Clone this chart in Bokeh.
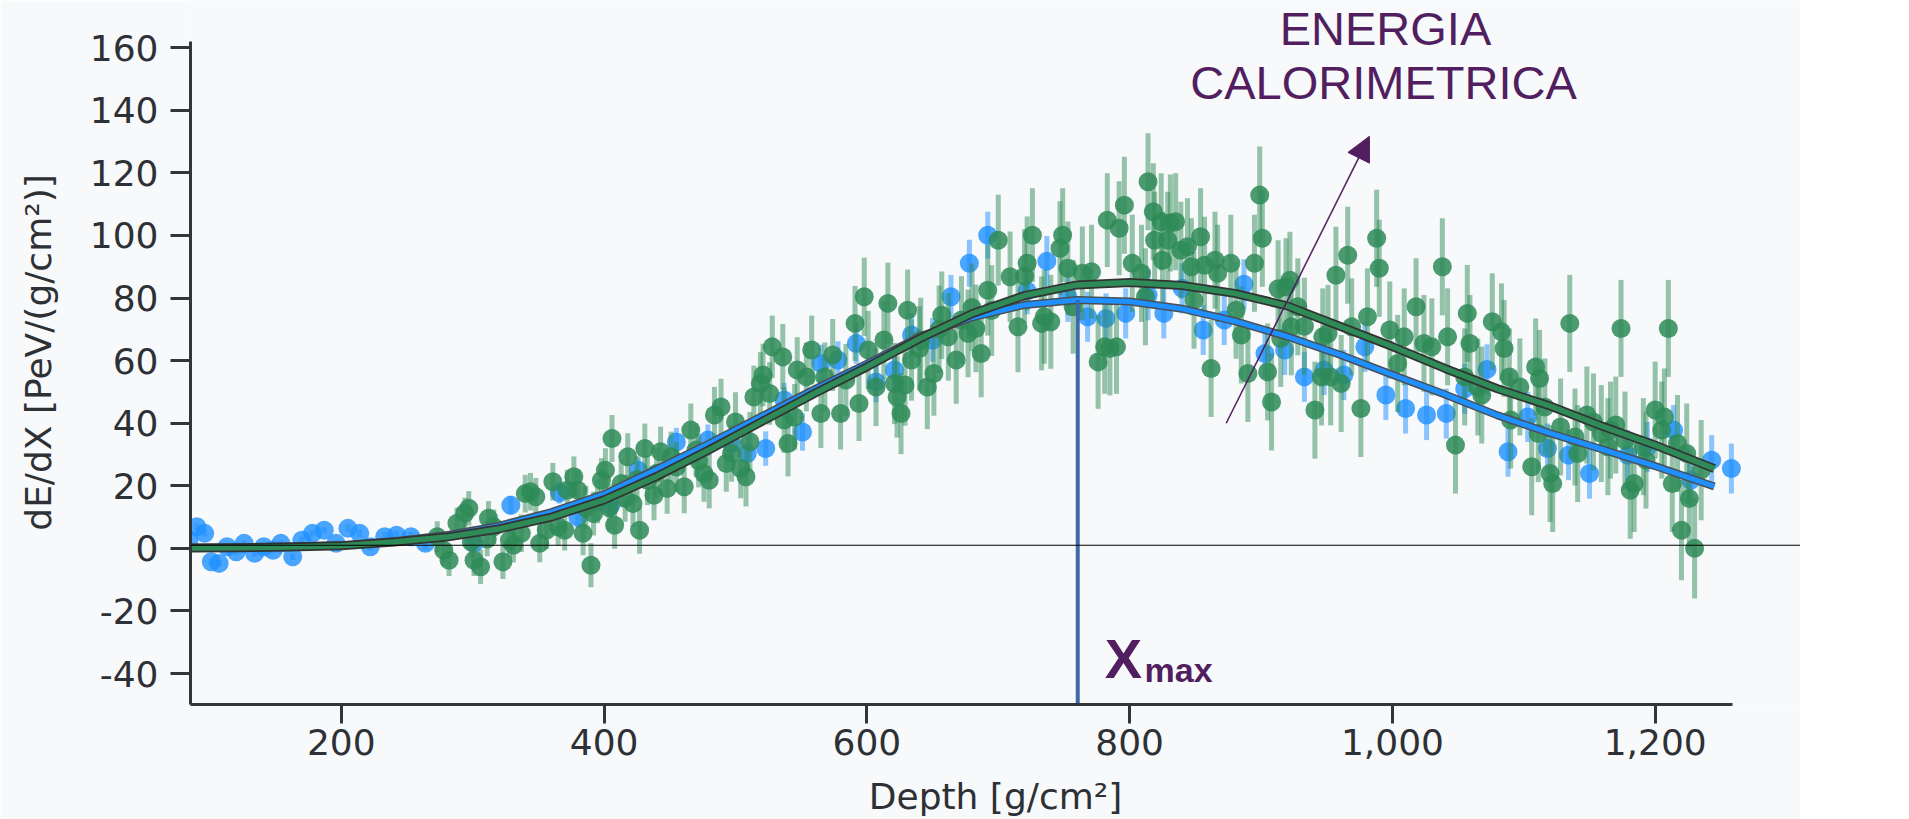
from bokeh.plotting import figure
from bokeh.models import Span, Label, Arrow, NormalHead, NumeralTickFormatter, PrintfTickFormatter
from bokeh.embed import file_html
from bokeh.resources import INLINE

# ---------------- data ----------------
blue_x = [84, 90, 96, 101, 107, 113, 120, 126, 134, 141, 148, 154, 163, 170, 178, 187, 196, 205, 214, 222,
          233, 242, 253, 264, 301, 329, 366, 380, 405, 426, 455, 479, 497, 509, 523, 537, 551, 565, 578, 592,
          607, 621, 634, 650, 664, 678, 692, 722, 737, 753, 768, 782, 797, 814, 826, 840, 856, 872, 887, 903,
          918, 933, 948, 963, 979, 995, 1010, 1026, 1041, 1055, 1072, 1088, 1103, 1118, 1134, 1150, 1179, 1194,
          1214, 1227, 1243, 1258]
blue_y = [2.6, 6.9, 4.8, -4.3, -4.8, 0.5, -1.1, 1.6, -1.6, 0.5, -0.6, 1.6, -2.7, 2.6, 4.8, 5.8, 1.6, 6.4, 4.8, 0.5,
          3.7, 4.2, 3.7, 1.6, 1.6, 13.8, 17.8, 10.0, 13.8, 25.0, 34.0, 34.6, 33.5, 30.3, 31.9, 47.4, 37.2, 59.1, 60.2, 65.5,
          53.2, 57.0, 68.2, 66.6, 80.4, 91.1, 100.1, 82.3, 91.8, 80.4, 74.0, 73.5, 75.1, 80.9, 75.1, 83.1, 69.8, 73.0, 84.4, 62.3,
          63.4, 54.8, 57.0, 55.4, 64.4, 49.0, 44.7, 42.6, 43.1, 51.0, 57.2, 30.9, 42.0, 31.9, 29.8, 23.9, 29.8, 32.4,
          37.8, 21.8, 28.2, 25.5]
blue_err = [1, 1, 1, 1, 1, 1, 1, 1, 1, 1, 1, 1, 1, 1, 1, 1, 1, 1.2, 1.2, 1.2,
            1.5, 1.5, 1.5, 2, 2.5, 3, 3.5, 3.5, 4, 4, 4.5, 5, 5, 5.5, 5.5, 5.5, 6, 6, 6, 6.5,
            6.5, 6.5, 7, 7, 7, 7.5, 7.5, 7.5, 8, 8, 8, 8, 8, 8, 8, 8, 8, 8, 8, 8,
            8, 8, 8, 8, 8, 8, 8, 8, 8, 8, 8, 8, 8, 8, 8, 8, 8, 8,
            8, 8, 8, 8]

green_x = [273, 278, 282, 288, 294, 297, 299, 301, 306, 311, 312, 316, 323, 328, 331, 337, 340, 344, 348, 351,
           356, 361, 365, 370, 372, 377, 380, 384, 386, 390, 392, 395, 398, 401, 404, 406, 408, 413, 416, 418,
           422, 425, 427, 431, 433, 438, 440, 443, 448, 451, 455, 461, 466, 470, 472, 476, 480, 484, 489, 493,
           497, 500, 504, 508, 511, 514, 519, 521, 526, 528, 536, 537, 540, 545, 547, 554, 558, 565, 568, 574,
           580, 584, 591, 594, 598, 601, 607, 613, 616, 621, 623, 626, 629, 631, 634, 640, 641, 646, 651, 655,
           657, 662, 668, 672, 677, 680, 683, 687, 692, 695, 700, 709, 715, 720, 722, 726, 733, 735, 740, 747,
           749, 753, 757, 764, 771, 776, 781, 783, 785, 790, 792, 796, 802, 809, 812, 814, 818, 819, 824, 825,
           829, 831, 835, 839, 844, 847, 849, 854, 857, 862, 865, 867, 877, 881, 885, 890, 895, 899, 901, 905,
           908, 913, 915, 919, 922, 923, 928, 933, 941, 946, 947, 951, 953, 957, 961, 966, 969, 976, 981, 988,
           990, 998, 1004, 1009, 1018, 1024, 1030, 1038, 1042, 1048, 1055, 1057, 1059, 1065, 1068, 1076, 1083, 1085, 1089, 1090,
           1097, 1106, 1109, 1111, 1112, 1116, 1120, 1122, 1128, 1135, 1139, 1141, 1148, 1153, 1159, 1164, 1166, 1170, 1174, 1177,
           1181, 1184, 1191, 1193, 1200, 1205, 1207, 1210, 1213, 1217, 1220, 1224, 1226, 1230, 1235]
green_y = [3.7, -0.6, -3.8, 8.0, 11.2, 12.8, 2.0, -3.8, -5.9, 3.0, 9.6, 6.9, -4.3, 2.6, 1.0, 4.8, 17.5, 18.1, 16.5, 1.6,
           5.8, 21.3, 6.9, 5.8, 18.6, 22.9, 18.6, 4.8, 13.0, -5.4, 11.1, 15.0, 21.8, 25.0, 13.0, 35.1, 7.4, 20.7, 16.0, 29.3,
           14.3, 22.0, 5.8, 31.9, 21.8, 17.0, 24.0, 30.9, 19.1, 29.3, 26.0, 19.7, 37.8, 31.4, 28.0, 23.9, 21.8, 42.6, 45.2, 27.1,
           30.3, 40.4, 25.5, 22.9, 34.1, 48.4, 52.7, 55.4, 49.5, 64.4, 61.2, 41.0, 33.5, 42.0, 57.0, 54.8, 63.4, 43.1, 54.8, 61.8,
           43.1, 53.8, 71.9, 46.3, 80.4, 63.4, 51.6, 66.6, 78.3, 52.7, 48.4, 43.1, 52.2, 76.1, 60.2, 63.9, 66.6, 51.6, 55.9, 70.0,
           74.5, 67.6, 60.2, 73.0, 68.7, 77.0, 70.3, 62.3, 82.5, 76.0, 98.5, 86.8, 70.8, 87.0, 91.1, 100.1, 71.9, 74.0, 72.4, 95.9,
           100.1, 89.5, 77.2, 87.9, 88.4, 59.6, 64.4, 104.9, 63.9, 64.4, 102.3, 109.7, 91.1, 87.9, 80.4, 117.2, 107.6, 98.5, 104.4, 92.1,
           98.5, 104.0, 104.4, 95.3, 96.4, 90.0, 79.3, 99.6, 90.5, 57.5, 92.1, 87.9, 91.1, 76.1, 68.2, 55.9, 91.1, 112.9, 99.1, 56.4,
           46.8, 83.0, 67.1, 83.6, 85.7, 70.8, 77.2, 71.0, 44.2, 54.8, 67.6, 68.7, 54.8, 87.3, 52.7, 93.7, 70.8, 44.7, 74.0, 99.1,
           89.5, 69.8, 59.1, 67.6, 77.2, 65.5, 64.4, 90.0, 67.6, 33.0, 54.8, 75.1, 65.5, 51.6, 49.0, 72.4, 69.2, 63.9, 54.8, 41.0,
           51.6, 26.1, 58.0, 36.7, 54.3, 45.2, 23.9, 20.7, 38.8, 71.9, 35.6, 30.3, 42.6, 40.4, 36.7, 32.5, 37.8, 39.4, 70.3, 34.6,
           18.6, 20.7, 32.5, 28.2, 44.2, 37.8, 42.0, 70.3, 20.7, 33.5, 5.8, 30.3, 15.9, 0.0, 25.0]
green_err = [5, 5, 5, 5, 5, 5.5, 5, 5, 5.5, 5.5, 5.5, 5.5, 5.5, 5.5, 5.5, 6, 6, 6, 6, 6,
             6, 6, 6, 6.5, 6.5, 6.5, 6.5, 7, 7, 7, 7, 7, 7, 7, 7.5, 7.5, 7.5, 7.5, 7.5, 7.5,
             7.5, 7.5, 7.5, 8, 8, 8, 8, 8, 8, 8, 8, 8.5, 8.5, 8.5, 8.5, 9, 9, 9, 9, 9,
             9, 9.5, 9.5, 9.5, 9.5, 10, 10, 10, 10, 10, 10.5, 10.5, 10.5, 10.5, 10.5, 11, 11, 11, 11, 11.5,
             11.5, 11.5, 12, 12, 12.5, 12.5, 12.5, 12.5, 13, 13, 13, 13, 13, 13, 13, 13.5, 13.5, 13.5, 13.5, 14,
             14, 14, 14, 14, 14, 14, 14, 14, 14.5, 14.5, 14.5, 14.5, 14.5, 15, 15, 15, 15, 15, 15, 15,
             15, 15, 15, 15, 15, 15, 15, 15, 15, 15, 15, 15.5, 15.5, 15.5, 15.5, 15.5, 15.5, 15.5, 15.5, 15.5,
             15.5, 15.5, 15.5, 15.5, 15.5, 15.5, 15.5, 15.5, 15.5, 15.5, 15.5, 15.5, 15.5, 15.5, 15.5, 15.5, 15.5, 15.5, 15.5, 15.5,
             15.5, 15.5, 15.5, 15.5, 15.5, 15.5, 15.5, 15.5, 15.5, 15.5, 15.5, 15.5, 15.5, 15.5, 15.5, 15.5, 15.5, 15.5, 15.5, 15.5,
             15.5, 15.5, 15.5, 15.5, 15.5, 15.5, 15.5, 15.5, 15.5, 15.5, 15.5, 15.5, 15.5, 15.5, 15.5, 15.5, 15.5, 15.5, 15.5, 15.5,
             15.5, 15.5, 15.5, 15.5, 15.5, 15.5, 15.5, 15.5, 15.5, 15.5, 15.5, 15.5, 15.5, 15.5, 15.5, 15.5, 15.5, 15.5, 15.5, 15.5,
             15.5, 15.5, 15.5, 15.5, 15.5, 15.5, 15.5, 15.5, 15.5, 15.5, 16, 16, 16, 16, 16]

blue_fit_x = [85, 120, 160, 200, 240, 280, 320, 360, 400, 440, 480, 520, 560, 600, 640, 680, 720, 760, 800, 840,
              880, 920, 960, 1000, 1040, 1080, 1120, 1160, 1200, 1245]
blue_fit_y = [0.2, 0.3, 0.6, 1.0, 2.3, 4.2, 7.2, 11.6, 17.3, 25.3, 33.5, 42.2, 50.8, 59.0, 67.6, 73.8, 77.8, 79.4, 78.9, 76.6,
              72.6, 67.7, 61.9, 55.5, 49.2, 42.5, 36.8, 31.6, 26.3, 19.8]
green_fit_x = [85, 120, 160, 200, 240, 280, 320, 360, 400, 440, 480, 520, 560, 600, 640, 680, 720, 760, 800, 840,
               880, 920, 960, 1000, 1040, 1080, 1120, 1160, 1200, 1245]
green_fit_y = [0.1, 0.2, 0.4, 0.8, 2.0, 3.6, 6.2, 10.0, 15.5, 23.0, 31.5, 40.5, 49.5, 58.0, 67.0, 75.0, 80.8, 84.2, 85.0, 84.0,
               81.5, 77.5, 71.0, 64.5, 57.5, 51.0, 45.5, 39.0, 33.0, 25.5]

x_ticks = [200, 400, 600, 800, 1000, 1200]
y_ticks = [-40, -20, 0, 20, 40, 60, 80, 100, 120, 140, 160]
xmax_depth = 760.5
xmax_top = 79.4
zero_line = 1.0

# ---------------- styling ----------------
BG = "#f8f9fb"
AXIS = "#323539"
TXT = "#2d3034"
PURPLE = "#511f5f"
GREEN = "#2e8b57"
BLUE = "#1e90ff"

X_START, X_END = 85.2, 1310.6
X_AXIS_END = 1258.6
Y_START, Y_AXIS_END, Y_END = -49.9, 162.0, 175.1

p = figure(width=1800, height=819, x_range=(X_START, X_END), y_range=(Y_START, Y_END),
           output_backend="svg", toolbar_location=None,
           min_border_left=190, min_border_right=0, min_border_top=0, min_border_bottom=115,
           background_fill_color=BG, border_fill_color=BG, outline_line_color=None)
p.grid.visible = False

for ax in (p.xaxis[0], p.yaxis[0]):
    ax.axis_line_width = 3
    ax.axis_line_color = AXIS
    ax.major_tick_line_width = 3
    ax.major_tick_line_color = AXIS
    ax.major_tick_in = 0
    ax.minor_tick_line_color = None
    ax.major_label_text_font = "DejaVu Sans"
    ax.major_label_text_font_size = "36px"
    ax.major_label_text_color = TXT
    ax.axis_label_text_font = "DejaVu Sans"
    ax.axis_label_text_font_size = "36px"
    ax.axis_label_text_font_style = "normal"
    ax.axis_label_text_color = TXT

p.xaxis.ticker = x_ticks
p.xaxis.formatter = NumeralTickFormatter(format="0,0")
p.xaxis.bounds = (X_START, X_AXIS_END)
p.xaxis.major_tick_out = 19
p.xaxis.major_label_standoff = 5
p.xaxis.axis_label_standoff = 18
p.xaxis.axis_label = "Depth [g/cm²]"

p.yaxis.ticker = y_ticks
p.yaxis.formatter = PrintfTickFormatter(format="%d")
p.yaxis.bounds = (Y_START, Y_AXIS_END)
p.yaxis.major_tick_out = 20
p.yaxis.major_label_standoff = 12
p.yaxis.axis_label_standoff = 28
p.yaxis.axis_label = "dE/dX [PeV/(g/cm²)]"

# ---------------- data glyphs ----------------
b_lo = [y - e for y, e in zip(blue_y, blue_err)]
b_hi = [y + e for y, e in zip(blue_y, blue_err)]
g_lo = [y - e for y, e in zip(green_y, green_err)]
g_hi = [y + e for y, e in zip(green_y, green_err)]

p.segment(x0=blue_x, y0=b_lo, x1=blue_x, y1=b_hi, line_color=BLUE, line_alpha=0.5, line_width=5)
p.scatter(blue_x, blue_y, size=19, marker="circle", fill_color=BLUE, fill_alpha=0.8, line_color=None)
p.segment(x0=green_x, y0=g_lo, x1=green_x, y1=g_hi, line_color=GREEN, line_alpha=0.5, line_width=5)
p.scatter(green_x, green_y, size=19, marker="circle", fill_color=GREEN, fill_alpha=0.85, line_color=None)

p.line(blue_fit_x, blue_fit_y, line_color="#4a4f55", line_width=8, line_join="round")
p.line(blue_fit_x, blue_fit_y, line_color=BLUE, line_width=5, line_join="round")
p.line(green_fit_x, green_fit_y, line_color="#333333", line_width=9, line_join="round")
p.line(green_fit_x, green_fit_y, line_color=GREEN, line_width=5.5, line_join="round")

p.add_layout(Span(location=zero_line, dimension="width", line_color="black", line_width=1.2, level="overlay"))
p.segment(x0=[xmax_depth], y0=[xmax_top], x1=[xmax_depth], y1=[Y_START], line_color="#3d6aa8", line_width=4)

# ---------------- annotations ----------------
p.add_layout(Label(x=994.7, y=166.3, text="ENERGIA", text_align="center", text_baseline="alphabetic",
                   text_font="Liberation Sans", text_font_size="47px", text_color=PURPLE))
p.add_layout(Label(x=993.2, y=149.0, text="CALORIMETRICA", text_align="center", text_baseline="alphabetic",
                   text_font="Liberation Sans", text_font_size="47px", text_color=PURPLE))
p.add_layout(Arrow(end=NormalHead(size=24, fill_color=PURPLE, line_color=PURPLE),
                   x_start=873.5, y_start=40.0, x_end=982.5, y_end=131.7,
                   line_color=PURPLE, line_width=1.5))
p.add_layout(Label(x=781, y=-35.3, text="X", text_align="left", text_baseline="alphabetic",
                   text_font="Liberation Sans", text_font_size="56px", text_font_style="bold", text_color=PURPLE))
p.add_layout(Label(x=811.4, y=-39.0, text="max", text_align="left", text_baseline="alphabetic",
                   text_font="Liberation Sans", text_font_size="34px", text_font_style="bold", text_color=PURPLE))

open("out.html", "w").write(file_html(p, INLINE))
